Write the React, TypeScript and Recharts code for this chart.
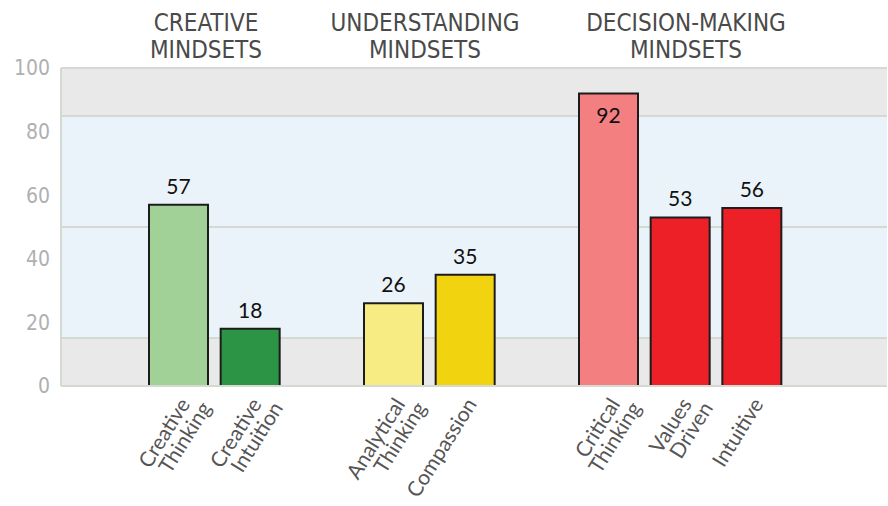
import { Bar, BarChart, CartesianGrid, Cell, LabelList, XAxis, YAxis } from "recharts"

const creativeCategories = ["Creative Thinking", "Creative Intuition"]
const creativeScores = [57, 18]
const understandingCategories = ["Analytical Thinking", "Compassion"]
const understandingScores = [26, 35]
const decisionCategories = ["Critical Thinking", "Values Driven", "Intuitive"]
const decisionScores = [92, 53, 56]

const groupTitles = [
  ["CREATIVE", "MINDSETS"],
  ["UNDERSTANDING", "MINDSETS"],
  ["DECISION-MAKING", "MINDSETS"],
]
const yTicks = [0, 20, 40, 60, 80, 100]
// edges of the shaded background bands
const bandTicks = [100, 85, 50, 15, 0]

const barColors: Record<string, string> = {
  "Creative Thinking": "#a1d196",
  "Creative Intuition": "#2b9545",
  "Analytical Thinking": "#f7ec84",
  "Compassion": "#f2d30f",
  "Critical Thinking": "#f47f81",
  "Values Driven": "#ed1f27",
  "Intuitive": "#ed1f27",
}

const toRows = (names: string[], scores: number[]) =>
  names.map((name, i) => ({ name, score: scores[i] as number | null }))

// an empty slot separates the groups
const data = [
  ...toRows(creativeCategories, creativeScores),
  { name: "gap-1", score: null },
  ...toRows(understandingCategories, understandingScores),
  { name: "gap-2", score: null },
  ...toRows(decisionCategories, decisionScores),
]

const titleCenters = [206, 425, 686]
const gridStroke = "#d4d9d2"
const narrowFont = "'Liberation Sans Narrow', 'DejaVu Sans Condensed', sans-serif"

function CategoryTick({ x, y, payload }: any) {
  const value: string = payload.value
  if (value.startsWith("gap")) return <g />
  const lines = value.split(" ")
  return (
    <g transform={`translate(${x + 12},${y + 10})`}>
      <text transform="rotate(-58)" textAnchor="end" fontFamily="Lato" fontSize={21} fill="#555">
        {lines.map((line, i) => (
          <tspan key={i} x={i * 8} y={i * 20}>
            {line}
          </tspan>
        ))}
      </text>
    </g>
  )
}

function ScoreLabel({ x, y, width, value }: any) {
  if (value == null) return null
  const inside = value >= 90
  return (
    <text
      x={x + width / 2}
      y={inside ? y + 30 : y - 11}
      textAnchor="middle"
      fontFamily="Lato"
      fontSize={21}
      fill="#111"
    >
      {value}
    </text>
  )
}

// background band edges, mapped over the plot height (domain is 0..100)
const bandLines = ({ offset }: any) =>
  bandTicks.map((v) => Math.round(offset.top + (offset.height * (100 - v)) / 100))

export default function App() {
  return (
    <div style={{ position: "absolute", left: 0, top: 0, width: 888, height: 506 }}>
      <svg width={888} height={68} style={{ position: "absolute", left: 0, top: 0 }}>
        {groupTitles.map((lines, g) =>
          lines.map((line, i) => (
            <text
              key={`${g}-${i}`}
              x={titleCenters[g]}
              y={31 + i * 27}
              textAnchor="middle"
              fontFamily={narrowFont}
              fontSize={24}
              fill="#4a4a4a"
            >
              {line}
            </text>
          ))
        )}
      </svg>
      <BarChart
        width={888}
        height={506}
        data={data}
        margin={{ top: 68, right: 1, bottom: 20, left: 0 }}
        barSize={59}
      >
        <CartesianGrid
          vertical={false}
          stroke={gridStroke}
          strokeWidth={2}
          horizontalCoordinatesGenerator={bandLines}
          horizontalFill={["#e9e9e9", "#ebf3fa", "#ebf3fa", "#e9e9e9", "#e9e9e9"]}
          fillOpacity={1}
        />
        <XAxis
          dataKey="name"
          interval={0}
          height={100}
          tickLine={false}
          axisLine={{ stroke: gridStroke, strokeWidth: 2 }}
          padding={{ left: 82, right: 99 }}
          tick={<CategoryTick />}
        />
        <YAxis
          width={61}
          domain={[0, 100]}
          ticks={yTicks}
          tickLine={false}
          tickSize={0}
          tickMargin={11}
          axisLine={{ stroke: gridStroke, strokeWidth: 2 }}
          tick={{ fill: "#b0b0b0", fontSize: 21, fontFamily: narrowFont }}
        />
        <Bar dataKey="score" stroke="#1c1c1c" strokeWidth={2} isAnimationActive={false}>
          {data.map((row) => (
            <Cell key={row.name} fill={barColors[row.name] ?? "none"} />
          ))}
          <LabelList dataKey="score" content={<ScoreLabel />} />
        </Bar>
      </BarChart>
    </div>
  )
}
